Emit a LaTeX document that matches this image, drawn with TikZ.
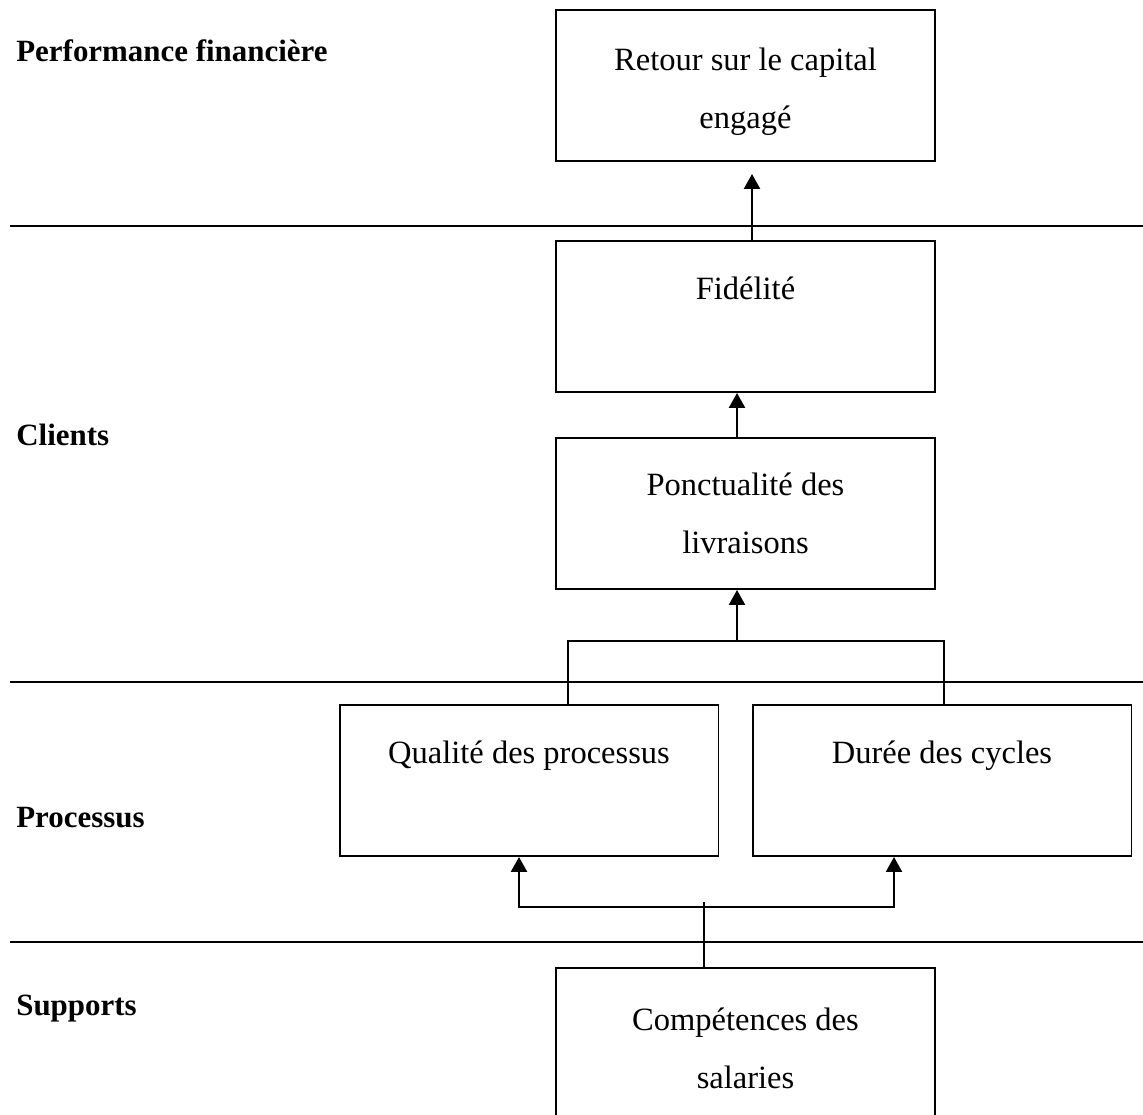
\documentclass[tikz,border=0pt]{standalone}
\usepackage{fontspec}
\setmainfont{Liberation Serif}
\usepackage{tikz}
\usetikzlibrary{arrows.meta}
\usetikzlibrary{calc}
\tikzset{>={Triangle[length=8.5pt,width=9pt]}}
\newcommand{\haut}[1][24pt]{\rule{0pt}{#1}}
\tikzset{
  bloc/.style={draw, line width=1.1pt, minimum width=7.58cm, minimum height=3.02cm,
    inner sep=0pt, align=center, font=\fontsize{18.5}{33}\selectfont},
  niveau/.style={anchor=west, inner sep=0pt, font=\fontsize{17.6}{22}\selectfont\bfseries},
  fleche/.style={->, line width=1.5pt},
  trait/.style={line width=1.1pt}
}

\begin{document}
\begin{tikzpicture}[line join=miter,x=0.02cm,y=-0.02cm]
			\useasboundingbox (0,0) rectangle (1143,1115);
			% separations
			\draw[trait] (10,226) -- (1143,226);
			\draw[trait] (10,682) -- (1143,682);
			\draw[trait] (10,942) -- (1143,942);
			% niveaux
			\node[niveau] (perf) at (16,51) {Performance financière};
			\node[niveau] (cli) at (16,435) {Clients};
			\node[niveau] (proc) at (16,818) {Processus};
			\node[niveau] (supp) at (16,1009) {Supports};
			% blocs
			\node[bloc] (ret) at (745.5,85.5) {\haut[19.5pt]Retour sur le capital\\engagé};
			\node[bloc] (fid) at (745.5,316.5) {\haut Fidélité\\\strut};
			\node[bloc] (pon) at (745.5,513.5) {Ponctualité des\\livraisons};
			\node[bloc] (qua) at (529,780.5) {\haut Qualité des processus\\\strut};
			\node[bloc] (dur) at (942,780.5) {\haut Durée des cycles\\\strut};
			\node[bloc] (sal) at (745.5,1043.5) {\haut[18pt]Compétences des\\salaries};
			% liens
			\draw[fleche, shorten >=0.24cm] ($(fid.north)+(6.5,0)$) -- ($(ret.south)+(6.5,0)$);
			\draw[fleche] ($(pon.north)+(-8.5,0)$) -- ($(fid.south)+(-8.5,0)$);
			\coordinate (jn) at ($(pon.south)+(-8.5,51)$);
			\draw[fleche] (jn) -- ($(pon.south)+(-8.5,0)$);
			\draw[trait] ($(qua.north)+(39,0)$) |- (jn) -| ($(dur.north)+(2,0)$);
			\coordinate (fork) at ($(sal.north)+(-41.5,-60)$);
			\draw[trait] ($(sal.north)+(-41.5,0)$) -- ++(0,-65);
			\draw[fleche] (fork) -| ($(qua.south)+(-10,0)$);
			\draw[fleche] (fork) -| ($(dur.south)+(-48,0)$);
\end{tikzpicture}
\end{document}
